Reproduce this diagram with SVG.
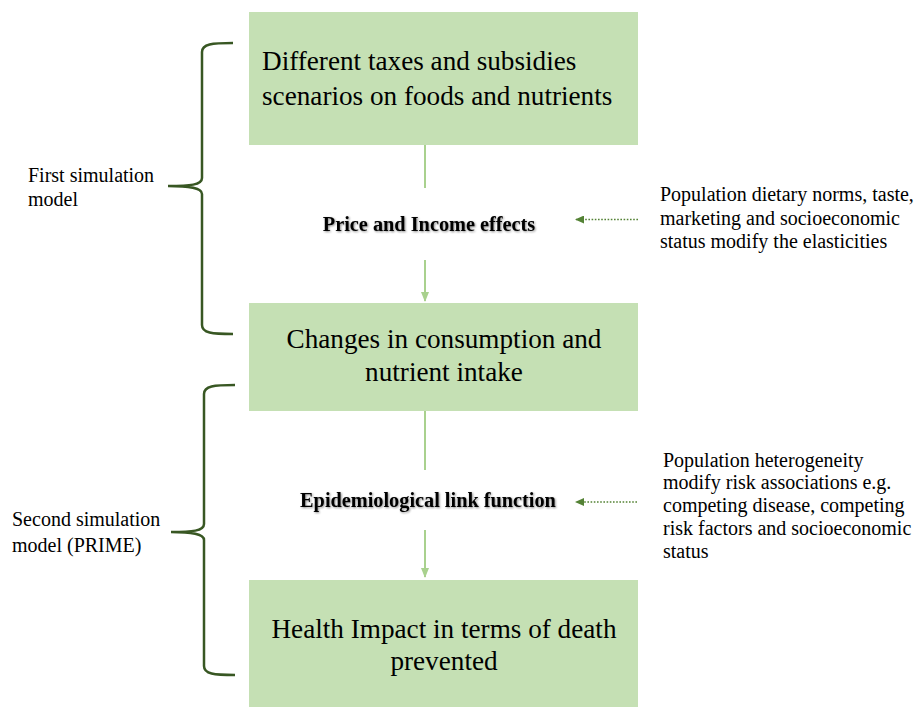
<svg xmlns="http://www.w3.org/2000/svg" width="921" height="707" viewBox="0 0 921 707">
  <style>
    .box { fill: #C5E0B4; }
    .main { font-family: "Liberation Serif", "Times New Roman", serif; font-size: 27.2px; fill: #000; }
    .side { font-family: "Liberation Serif", "Times New Roman", serif; font-size: 20px; fill: #000; }
    .step { font-family: "Liberation Serif", "Times New Roman", serif; font-size: 20.3px; font-weight: bold; fill: #000; }
    .flow { stroke: #A9D18E; stroke-width: 2; fill: none; }
    .mod { stroke: #548235; stroke-width: 1.6; stroke-dasharray: 1.6 1.6; fill: none; }
    .brace { stroke: #385723; stroke-width: 2.5; fill: none; }
  </style>
  <defs>
    <marker id="flowHead" markerWidth="10" markerHeight="8" refX="9" refY="4" orient="auto" markerUnits="userSpaceOnUse">
      <path d="M0,0 L10,4 L0,8 Z" fill="#A9D18E"/>
    </marker>
    <marker id="modHead" markerWidth="9" markerHeight="8" refX="8" refY="4" orient="auto" markerUnits="userSpaceOnUse">
      <path d="M0,0 L9,4 L0,8 Z" fill="#548235"/>
    </marker>
    <filter id="soft" x="-5%" y="-30%" width="110%" height="160%">
      <feGaussianBlur in="SourceAlpha" stdDeviation="1.2"/>
      <feOffset dx="1" dy="1" result="b"/>
      <feComponentTransfer><feFuncA type="linear" slope="0.45"/></feComponentTransfer>
      <feMerge><feMergeNode/><feMergeNode in="SourceGraphic"/></feMerge>
    </filter>
  </defs>

  <rect width="921" height="707" fill="#fff"/>

  <!-- flow connectors -->
  <g id="connectors">
    <line class="flow" x1="425" y1="145" x2="425" y2="188"/>
    <line class="flow" x1="425" y1="260" x2="425" y2="301" marker-end="url(#flowHead)"/>
    <line class="flow" x1="425" y1="411" x2="425" y2="470"/>
    <line class="flow" x1="425" y1="530" x2="425" y2="577" marker-end="url(#flowHead)"/>
    <line class="mod" x1="638" y1="219.5" x2="576" y2="219.5" marker-end="url(#modHead)"/>
    <line class="mod" x1="637" y1="502" x2="576" y2="502" marker-end="url(#modHead)"/>
  </g>

  <!-- boxes -->
  <g id="scenarios">
    <rect class="box" x="249" y="12" width="389" height="133"/>
    <text class="main" x="262" y="70">Different taxes and subsidies</text>
    <text class="main" x="262" y="105">scenarios on foods and nutrients</text>
  </g>
  <g id="consumption">
    <rect class="box" x="249" y="303" width="389" height="108"/>
    <text class="main" x="444" y="348" text-anchor="middle">Changes in consumption and</text>
    <text class="main" x="444" y="381" text-anchor="middle">nutrient intake</text>
  </g>
  <g id="health">
    <rect class="box" x="249" y="580" width="389" height="127"/>
    <text class="main" x="444" y="638" text-anchor="middle">Health Impact in terms of death</text>
    <text class="main" x="444" y="670" text-anchor="middle">prevented</text>
  </g>

  <!-- intermediate steps -->
  <g id="price-income">
    <text class="step" x="429" y="231" text-anchor="middle" filter="url(#soft)">Price and Income effects</text>
  </g>
  <g id="epi-link">
    <text class="step" x="428" y="507" text-anchor="middle" filter="url(#soft)">Epidemiological link function</text>
  </g>

  <!-- modifiers -->
  <g id="modifier-elasticities">
    <text class="side" x="660" y="201">Population dietary norms, taste,</text>
    <text class="side" x="660" y="225">marketing and socioeconomic</text>
    <text class="side" x="660" y="248">status modify the elasticities</text>
  </g>
  <g id="modifier-risk">
    <text class="side" x="663" y="467">Population heterogeneity</text>
    <text class="side" x="663" y="489">modify risk associations e.g.</text>
    <text class="side" x="663" y="512">competing disease, competing</text>
    <text class="side" x="663" y="535">risk factors and socioeconomic</text>
    <text class="side" x="663" y="558">status</text>
  </g>

  <!-- model braces -->
  <g id="first-model">
    <path class="brace" d="M233,43 C212,43 202,44 202,52 L202,178 C202,185 190,186 168,186 C190,186 202,188 202,194 L202,325 C202,333 212,334 233,334"/>
    <text class="side" x="28" y="182">First simulation</text>
    <text class="side" x="28" y="206">model</text>
  </g>
  <g id="second-model">
    <path class="brace" d="M235,385 C214,385 204,386 204,394 L204,524 C204,531 192,532 171,532 C192,532 204,534 204,540 L204,666 C204,674 214,675 235,675"/>
    <text class="side" x="12" y="526">Second simulation</text>
    <text class="side" x="12" y="552">model (PRIME)</text>
  </g>
</svg>
